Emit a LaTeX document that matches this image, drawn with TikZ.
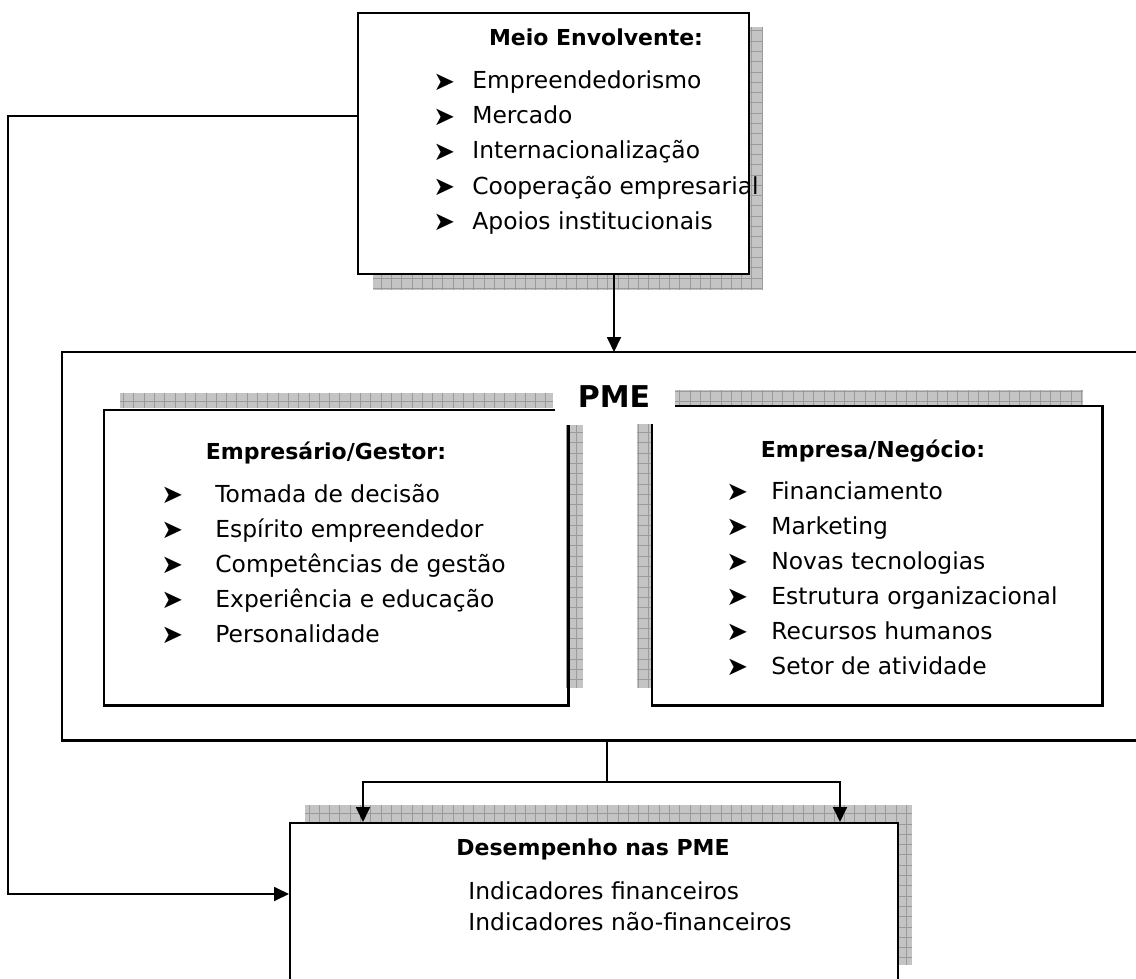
\documentclass[tikz,border=0pt]{standalone}
\usepackage{fontspec}
\setmainfont{DejaVu Sans}
\usepackage{tikz}
\usetikzlibrary{arrows.meta,calc}
\definecolor{shgray}{HTML}{C4C4C4}
\definecolor{shline}{HTML}{9A9A9A}

\begin{document}
\begin{tikzpicture}[
 x=0.5pt, y=-0.5pt, >={Triangle[length=7.5pt,width=7pt]},
 font=\fontsize{11.7}{14}\selectfont,
 box/.style={draw,line width=1.2pt,inner sep=0pt,anchor=north west},
 outline/.style={line width=1.2pt},
 conn/.style={line width=0.9pt},
 band/.style={fill=shgray,draw=none,path picture={
   \draw[shline,line width=0.5pt] (path picture bounding box.south west) grid[step=5.15pt] (path picture bounding box.north east);}},
 head/.style={font=\fontsize{11}{13}\selectfont\bfseries,anchor=base,inner sep=0pt},
 item/.style={anchor=base west,inner sep=0pt},
 bul/.style={font=\fontsize{13}{15}\selectfont,anchor=base west,inner sep=0pt,yshift=-0.6pt}
]
\useasboundingbox (0,0) rectangle (1136,979);

% shadow bands
\path[band] (373,273) rectangle (763,290);
\path[band] (748,27) rectangle (763,273);
\path[band] (120,393) rectangle (553,408);
\path[band] (566,425) rectangle (583,688);
\path[band] (675,390) rectangle (1083,406);
\path[band] (637,424) rectangle (652,688);
\path[band] (305,805) rectangle (912,822);
\path[band] (897,822) rectangle (912,965);

% boxes
\node[box,fill=white,minimum width=195.5pt,minimum height=130.5pt] (meio) at (357,12) {};
\node[box,draw=none,minimum width=540pt,minimum height=193pt] (pme) at (62,352) {};
\node[box,draw=none,minimum width=231pt,minimum height=146.5pt] (gestor) at (104,410) {};
\node[box,draw=none,minimum width=224pt,minimum height=148.5pt] (empresa) at (652,406) {};
\node[box,fill=white,minimum width=304pt,minimum height=80pt] (perf) at (289,822) {};

\draw[outline] (pme.north east) -- (pme.north west) -- (pme.south west) -- (pme.south east);
\draw[outline] ($(gestor.north east)+(-13,0)$) -- (gestor.north west) -- (gestor.south west)
 -- (gestor.south east) -- ($(gestor.north east)+(0,15)$);
\draw[outline] ($(empresa.north west)+(0,18)$) -- (empresa.south west) -- (empresa.south east)
 -- (empresa.north east) -- ($(empresa.north west)+(23,0)$);

% texts
\node[head] (meiot) at (596,46) {Meio Envolvente:};
\foreach \t [count=\i] in {Empreendedorismo,Mercado,Internacionalização,Cooperação empresarial,Apoios institucionais} {
 \node[bul] (meiob\i) at (433,54+35*\i) {➤};
 \node[item] (meioi\i) at (472,54+35*\i) {\t};
}
\node[font=\fontsize{15}{18}\selectfont\bfseries,anchor=base,inner sep=0pt] (pmel) at (614,407) {PME};
\node[head] (gestort) at (326,459) {Empresário/Gestor:};
\foreach \t [count=\i] in {Tomada de decisão,Espírito empreendedor,Competências de gestão,Experiência e educação,Personalidade} {
 \node[bul] (gestorb\i) at (161,467+35*\i) {➤};
 \node[item] (gestori\i) at (215,467+35*\i) {\t};
}
\node[head] (empresat) at (873,457) {Empresa/Negócio:};
\foreach \t [count=\i] in {Financiamento,Marketing,Novas tecnologias,Estrutura organizacional,Recursos humanos,Setor de atividade} {
 \node[bul] (empresab\i) at (726,464+35*\i) {➤};
 \node[item] (empresai\i) at (771,464+35*\i) {\t};
}
\node[head] (perft) at (593,855) {Desempenho nas PME};
\node[item] (perf1) at (468,899) {Indicadores financeiros};
\node[item] (perf2) at (468,930) {Indicadores não-financeiros};

% connectors
\coordinate (stem) at (607,782);
\coordinate (fbtop) at (8,116);
\coordinate (fbbot) at (8,894);
\draw[conn,->] (meio.south -| pmel) -- (pme.north -| pmel);
\draw[conn] (pme.south -| stem) -- (stem);
\draw[conn,->] (stem) -| ($(perf.north west)+(74,0)$);
\draw[conn,->] (stem) -| ($(perf.north west)+(551,0)$);
\draw[conn,->] (meio.west |- fbtop) -- (fbtop) -- (fbbot) -- (perf.west |- fbbot);
\end{tikzpicture}
\end{document}
